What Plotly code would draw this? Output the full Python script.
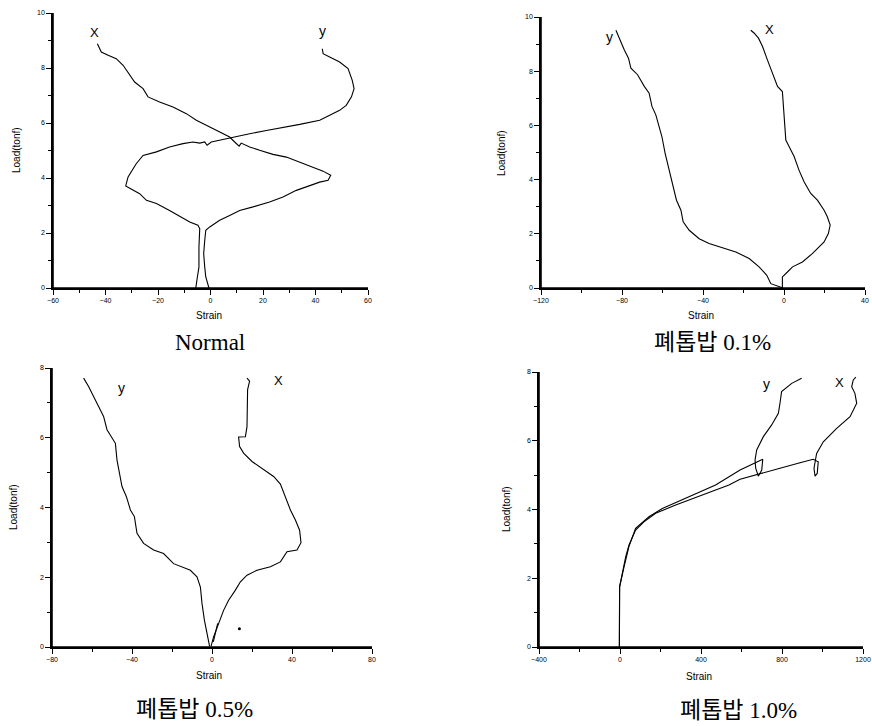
import plotly.graph_objects as go

# ---------------- data ----------------
# Panel 1: Normal
normal_x_strain = [-43.1, -41.6, -39.0, -35.9, -33.3, -31.4, -28.9, -25.7, -23.8, -19.4, -14.3, -9.2, -5.4, -1.6,
                   3.5, 7.3, 9.2, 10.9, 11.7, 14.9, 18.7, 23.8, 28.9, 34.0, 39.0, 42.9, 45.8, 44.8, 41.6, 37.8,
                   32.7, 27.6, 22.5, 16.2, 11.1, 7.3, 3.5, -0.3, -1.8, -2.2, -2.6, -2.2, -1.8, -0.6]
normal_x_load = [8.88, 8.58, 8.46, 8.34, 8.10, 7.85, 7.49, 7.25, 6.95, 6.76, 6.58, 6.34, 6.10, 5.92,
                 5.67, 5.49, 5.31, 5.16, 5.27, 5.13, 5.01, 4.86, 4.76, 4.58, 4.40, 4.25, 4.10, 3.92, 3.85, 3.73,
                 3.55, 3.31, 3.13, 2.95, 2.82, 2.64, 2.46, 2.22, 2.10, 1.73, 1.25, 0.76, 0.40, 0.0]
normal_y_strain = [42.6, 42.9, 45.4, 49.2, 52.4, 54.0, 54.7, 53.7, 51.7, 49.2, 45.4, 41.6, 34.0, 27.6, 21.3,
                   14.9, 8.6, 3.5, 0.3, -1.3, -2.2, -4.1, -6.7, -10.5, -15.6, -20.6, -25.7, -28.3, -30.2, -31.4,
                   -32.3, -30.2, -27.0, -24.4, -20.6, -15.6, -11.1, -7.9, -4.8, -4.1, -4.4, -4.4, -5.0, -5.6]
normal_y_load = [8.70, 8.52, 8.40, 8.22, 7.98, 7.55, 7.25, 6.95, 6.64, 6.46, 6.28, 6.10, 5.95, 5.85, 5.73,
                 5.61, 5.49, 5.37, 5.31, 5.19, 5.31, 5.27, 5.31, 5.25, 5.13, 4.95, 4.82, 4.52, 4.22, 4.04,
                 3.71, 3.61, 3.43, 3.19, 3.07, 2.82, 2.58, 2.40, 2.28, 2.16, 1.49, 0.76, 0.40, 0.0]

# Panel 2: 폐톱밥 0.1%
p01_y_strain = [-83.0, -81.7, -80.5, -78.9, -76.8, -75.6, -72.3, -69.0, -66.6, -65.2, -63.3, -62.0, -60.3,
                -58.7, -56.7, -54.7, -53.1, -50.9, -49.8, -46.8, -41.9, -37.0, -30.4, -23.8, -17.2, -12.3,
                -8.5, -6.5, -0.8]
p01_y_load = [9.51, 9.28, 9.04, 8.79, 8.48, 8.11, 7.87, 7.44, 7.19, 6.70, 6.39, 6.08, 5.59,
              4.97, 4.35, 3.74, 3.24, 2.87, 2.44, 2.13, 1.82, 1.64, 1.49, 1.33, 1.09, 0.78,
              0.47, 0.16, 0.01]
p01_x_strain = [-16.4, -14.8, -12.6, -10.6, -8.2, -5.7, -3.2, -0.8, -0.3, 0.5, 0.9, 2.5, 5.0, 7.4, 9.9,
                13.2, 16.5, 19.8, 21.4, 22.8, 21.9, 19.8, 17.3, 14.0, 9.1, 4.2, 1.7, -0.8, -0.8]
p01_x_load = [9.51, 9.41, 9.22, 8.91, 8.42, 7.93, 7.44, 7.25, 6.70, 5.96, 5.46, 5.22, 4.85, 4.35, 3.92,
              3.49, 3.24, 2.87, 2.63, 2.32, 2.01, 1.70, 1.52, 1.27, 0.96, 0.78, 0.59, 0.41, 0.0]

# Panel 3: 폐톱밥 0.5%
p05_y_strain = [-64.2, -61.7, -59.2, -55.8, -54.2, -52.5, -50.0, -48.3, -47.5, -46.2, -45.0, -42.8, -40.8,
                -38.8, -37.5, -34.2, -29.2, -24.2, -19.2, -10.8, -7.5, -5.8, -5.0, -3.8, -2.5, -1.2]
p05_y_load = [7.71, 7.47, 7.18, 6.80, 6.61, 6.23, 5.99, 5.84, 5.36, 4.98, 4.60, 4.31, 3.93,
              3.74, 3.26, 2.97, 2.78, 2.68, 2.39, 2.20, 2.01, 1.72, 1.25, 0.77, 0.38, 0.02]
p05_x_strain = [17.5, 18.8, 17.8, 17.8, 17.5, 16.7, 13.3, 13.8, 15.8, 20.0, 25.8, 30.8, 34.2, 36.7, 39.2,
                41.7, 43.8, 44.5, 42.5, 37.5, 34.2, 29.2, 22.5, 17.5, 14.2, 11.7, 8.3, 5.8, 3.3, 0.8, -0.5]
p05_x_load = [7.71, 7.62, 7.38, 6.80, 6.32, 6.03, 6.02, 5.75, 5.56, 5.32, 5.08, 4.89, 4.67, 4.31, 3.93,
              3.64, 3.35, 2.99, 2.78, 2.73, 2.44, 2.30, 2.20, 2.06, 1.87, 1.63, 1.34, 1.05, 0.67, 0.29, 0.02]
p05_extra_strain = [0.65, 2.85]
p05_extra_load = [0.15, 0.68]
p05_dot_strain = [13.7]
p05_dot_load = [0.52]

# Panel 4: 폐톱밥 1.0%
p10_y_strain = [-3, -3, -2, 20, 44, 77, 143, 209, 341, 472, 593, 658, 705, 700, 683, 670, 667, 675, 708,
                749, 782, 790, 798, 848, 897]
p10_y_load = [0.0, 0.9, 1.75, 2.33, 2.92, 3.45, 3.79, 4.03, 4.37, 4.71, 5.15, 5.32, 5.46, 5.15, 4.97, 5.2,
              5.44, 5.73, 6.12, 6.46, 6.80, 7.09, 7.43, 7.67, 7.82]
p10_x_strain = [-3, -3, -2, 11.5, 28, 44, 77, 118, 176, 275, 407, 538, 593, 691, 790, 889, 954, 979, 974,
                963, 958, 971, 1004, 1070, 1136, 1169, 1160, 1144, 1152, 1165]
p10_x_load = [0.0, 0.87, 1.75, 2.14, 2.62, 2.96, 3.40, 3.64, 3.89, 4.13, 4.42, 4.71, 4.88, 5.05, 5.20,
              5.36, 5.46, 5.39, 5.05, 4.97, 5.2, 5.63, 5.97, 6.36, 6.70, 7.09, 7.38, 7.57, 7.77, 7.85]

captions = ["Normal", "폐톱밥 0.1%", "폐톱밥 0.5%", "폐톱밥 1.0%"]
x_ranges = [(-60, 60), (-120, 40), (-80, 80), (-400, 1200)]
x_dticks = [20, 40, 40, 400]
y_ranges = [(0, 10), (0, 10), (0, 8), (0, 8)]
label_pos = [((-44.1, 9.28), (42.6, 9.35)),
             ((-7.4, 9.53), (-86.3, 9.28)),
             ((33.3, 7.64), (-45.5, 7.42)),
             ((1086, 7.68), (724, 7.66))]

# ---------------- layout helpers ----------------
W, H = 872, 726
# plot-area pixel boxes: (left, right, top, bottom)
boxes = [(53, 368, 13, 288), (541, 865, 17, 288), (52, 372, 368, 647), (539, 863, 372, 647)]
caption_xy = [(210, 343), (712, 343), (194, 709), (738, 710)]
strain_xy = [(209, 316), (701, 316), (209, 675), (699, 676)]
load_xy = [(17, 150), (502, 153), (13, 507), (506, 509)]

fig = go.Figure()

series = [
    [(normal_x_strain, normal_x_load), (normal_y_strain, normal_y_load)],
    [(p01_x_strain, p01_x_load), (p01_y_strain, p01_y_load)],
    [(p05_x_strain, p05_x_load), (p05_y_strain, p05_y_load), (p05_extra_strain, p05_extra_load)],
    [(p10_x_strain, p10_x_load), (p10_y_strain, p10_y_load)],
]

line_style = dict(color="black", width=1.1)
for i, group in enumerate(series):
    xa = "x" if i == 0 else f"x{i+1}"
    ya = "y" if i == 0 else f"y{i+1}"
    for sx, sy in group:
        fig.add_trace(go.Scatter(x=sx, y=sy, mode="lines", line=line_style,
                                 xaxis=xa, yaxis=ya, showlegend=False, hoverinfo="skip"))
    # axis spines (left + bottom), following the axis ranges
    (x0, x1), (y0, y1) = x_ranges[i], y_ranges[i]
    fig.add_trace(go.Scatter(x=[x1, x0, x0], y=[y0, y0, y1], mode="lines",
                             line=dict(color="black", width=1.6), cliponaxis=False,
                             xaxis=xa, yaxis=ya, showlegend=False, hoverinfo="skip"))
fig.add_trace(go.Scatter(x=p05_dot_strain, y=p05_dot_load, mode="markers",
                         marker=dict(color="black", size=3), xaxis="x3", yaxis="y3",
                         showlegend=False, hoverinfo="skip"))

annotations = []
tick_font = dict(family="Liberation Sans, Arial", size=7, color="black")
for i in range(4):
    l, r, t, b = boxes[i]
    xdom = [l / W, r / W]
    ydom = [1 - b / H, 1 - t / H]
    sfx = "" if i == 0 else str(i + 1)
    anchor_x = "y" if i == 0 else f"y{i+1}"
    anchor_y = "x" if i == 0 else f"x{i+1}"
    fig.update_layout({
        f"xaxis{sfx}": dict(
            domain=xdom, anchor=anchor_x, range=list(x_ranges[i]), dtick=x_dticks[i], tick0=0,
            automargin=False, showline=True, linecolor="black", linewidth=1.5,
            ticks="outside", ticklen=5, tickwidth=1.2, tickcolor="black",
            minor=dict(dtick=x_dticks[i] / 2, ticks="outside", ticklen=3, tickcolor="black", tickwidth=1),
            showgrid=False, zeroline=False, tickfont=tick_font,
        ),
        f"yaxis{sfx}": dict(
            domain=ydom, anchor=anchor_y, range=list(y_ranges[i]), dtick=2, tick0=0,
            automargin=False, showline=True, linecolor="black", linewidth=1.5,
            ticks="outside", ticklen=5, tickwidth=1.2, tickcolor="black",
            minor=dict(dtick=1, ticks="outside", ticklen=3, tickcolor="black", tickwidth=1),
            showgrid=False, zeroline=False, tickfont=tick_font,
        ),
    })
    cx, cy = caption_xy[i]
    annotations.append(dict(text=captions[i], x=cx / W, y=1 - cy / H, xref="paper", yref="paper",
                            showarrow=False, xanchor="center", yanchor="middle",
                            font=dict(family="Liberation Serif, Noto Sans CJK KR", size=23, color="black")))
    sx_, sy_ = strain_xy[i]
    annotations.append(dict(text="Strain", x=sx_ / W, y=1 - sy_ / H, xref="paper", yref="paper",
                            showarrow=False, xanchor="center", yanchor="middle",
                            font=dict(family="Liberation Sans, Arial", size=10, color="black")))
    lx, ly = load_xy[i]
    annotations.append(dict(text="Load(tonf)", x=lx / W, y=1 - ly / H, xref="paper", yref="paper",
                            showarrow=False, xanchor="center", yanchor="middle", textangle=-90,
                            font=dict(family="Liberation Sans, Arial", size=10, color="black")))
    (xlx, xly), (ylx, yly) = label_pos[i]
    annotations.append(dict(text="X", x=xlx, y=xly, xref=f"x{sfx}", yref=f"y{sfx}", showarrow=False,
                            font=dict(family="Liberation Sans, Arial", size=13, color="black")))
    annotations.append(dict(text="y", x=ylx, y=yly, xref=f"x{sfx}", yref=f"y{sfx}", showarrow=False,
                            font=dict(family="Liberation Sans, Arial", size=14, color="black")))

fig.update_layout(template="none", width=W, height=H, margin=dict(l=0, r=0, t=0, b=0),
                  paper_bgcolor="white", plot_bgcolor="white", annotations=annotations)

fig.write_html("out.html", post_script="document.body.style.margin='0px';",
               config={"displayModeBar": False})
